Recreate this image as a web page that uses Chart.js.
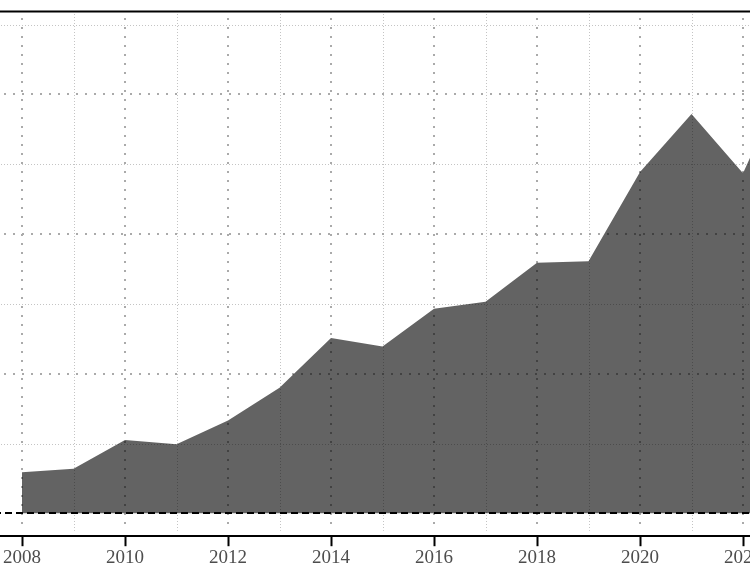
<!DOCTYPE html>
<html>
<head>
<meta charset="utf-8">
<script src="https://cdn.jsdelivr.net/npm/chart.js@4/dist/chart.umd.min.js"></script>
<style>
  html, body { margin: 0; padding: 0; background: #fff; overflow: hidden; width: 750px; height: 575px; }
  #wrap { position: absolute; left: -50px; top: 0; width: 900px; height: 575px; }
</style>
</head>
<body>
<div id="wrap"><canvas id="c"></canvas></div>
<script>
// ---- data ----
const years  = [2008, 2009, 2010, 2011, 2012, 2013, 2014, 2015, 2016, 2017, 2018, 2019, 2020, 2021, 2022, 2023];
const values = [0.59, 0.64, 1.05, 0.99, 1.33, 1.80, 2.51, 2.39, 2.93, 3.03, 3.59, 3.61, 4.89, 5.72, 4.87, 6.50];
const xTickYears  = [2008, 2010, 2012, 2014, 2016, 2018, 2020, 2022];
const xMinorYears = [2007, 2009, 2011, 2013, 2015, 2017, 2019, 2021, 2023];
const yMajor = [2, 4, 6];
const yMinor = [1, 3, 5, 7];
const baseline = 0;

const points = years.map((yr, i) => ({ x: yr, y: values[i] }));

const decor = {
  id: 'decor',
  beforeDatasetsDraw(chart) {
    const { ctx, chartArea: a, scales: { x, y } } = chart;
    ctx.save();
    const vBottom = y.getPixelForValue(-0.25);
    // minor horizontal
    ctx.strokeStyle = '#c4c4c4'; ctx.lineWidth = 1; ctx.setLineDash([1, 2]);
    yMinor.forEach(v => { const py = Math.round(y.getPixelForValue(v)) + 0.5; ctx.beginPath(); ctx.moveTo(a.left, py); ctx.lineTo(a.right, py); ctx.stroke(); });
    // minor vertical
    xMinorYears.forEach(v => { const px = Math.round(x.getPixelForValue(v)) + 0.5; ctx.beginPath(); ctx.moveTo(px, a.top + 2); ctx.lineTo(px, vBottom); ctx.stroke(); });
    // major horizontal
    ctx.strokeStyle = '#aaaaaa'; ctx.lineWidth = 2; ctx.setLineDash([2, 7]);
    yMajor.forEach(v => { const py = Math.round(y.getPixelForValue(v)); ctx.beginPath(); ctx.moveTo(a.left, py); ctx.lineTo(a.right, py); ctx.stroke(); });
    // major vertical
    xTickYears.forEach(v => { const px = Math.round(x.getPixelForValue(v)); ctx.beginPath(); ctx.moveTo(px, a.top + 6); ctx.lineTo(px, vBottom); ctx.stroke(); });
    ctx.restore();
  },
  afterDatasetsDraw(chart) {
    const { ctx, chartArea: a, scales: { y } } = chart;
    ctx.save();
    const py = Math.round(y.getPixelForValue(baseline));
    ctx.strokeStyle = '#000'; ctx.lineWidth = 2; ctx.setLineDash([7, 4]);
    ctx.beginPath(); ctx.moveTo(a.left, py); ctx.lineTo(a.right, py); ctx.stroke();
    ctx.setLineDash([]);
    ctx.beginPath(); ctx.moveTo(a.left, a.top - 0.5); ctx.lineTo(a.right, a.top - 0.5); ctx.stroke();
    ctx.restore();
  }
};

new Chart(document.getElementById('c'), {
  type: 'line',
  data: {
    datasets: [{
      data: points,
      fill: 'origin',
      backgroundColor: 'rgba(0,0,0,0.61)',
      borderWidth: 0,
      borderColor: 'rgba(0,0,0,0)',
      pointRadius: 0,
      tension: 0
    }]
  },
  options: {
    responsive: true,
    maintainAspectRatio: false,
    animation: false,
    layout: { padding: { top: 12, bottom: 6, left: 0, right: 0 } },
    plugins: { legend: { display: false }, tooltip: { enabled: false } },
    scales: {
      x: {
        type: 'linear',
        min: 2008 - 72 / 51.5,
        max: 2008 - 72 / 51.5 + 900 / 51.5,
        afterBuildTicks: s => { s.ticks = xTickYears.map(v => ({ value: v })); },
        ticks: {
          autoSkip: false,
          maxRotation: 0,
          padding: 0,
          color: '#4d4d4d',
          font: { family: '"Liberation Serif", "Times New Roman", serif', size: 19 },
          callback: v => String(v)
        },
        grid: { drawOnChartArea: false, drawTicks: true, tickLength: 10, tickColor: '#000', tickWidth: 2 },
        border: { display: true, color: '#000', width: 2 }
      },
      y: {
        display: false,
        min: -0.327,
        max: 7.181
      }
    }
  },
  plugins: [decor]
});
</script>
</body>
</html>
